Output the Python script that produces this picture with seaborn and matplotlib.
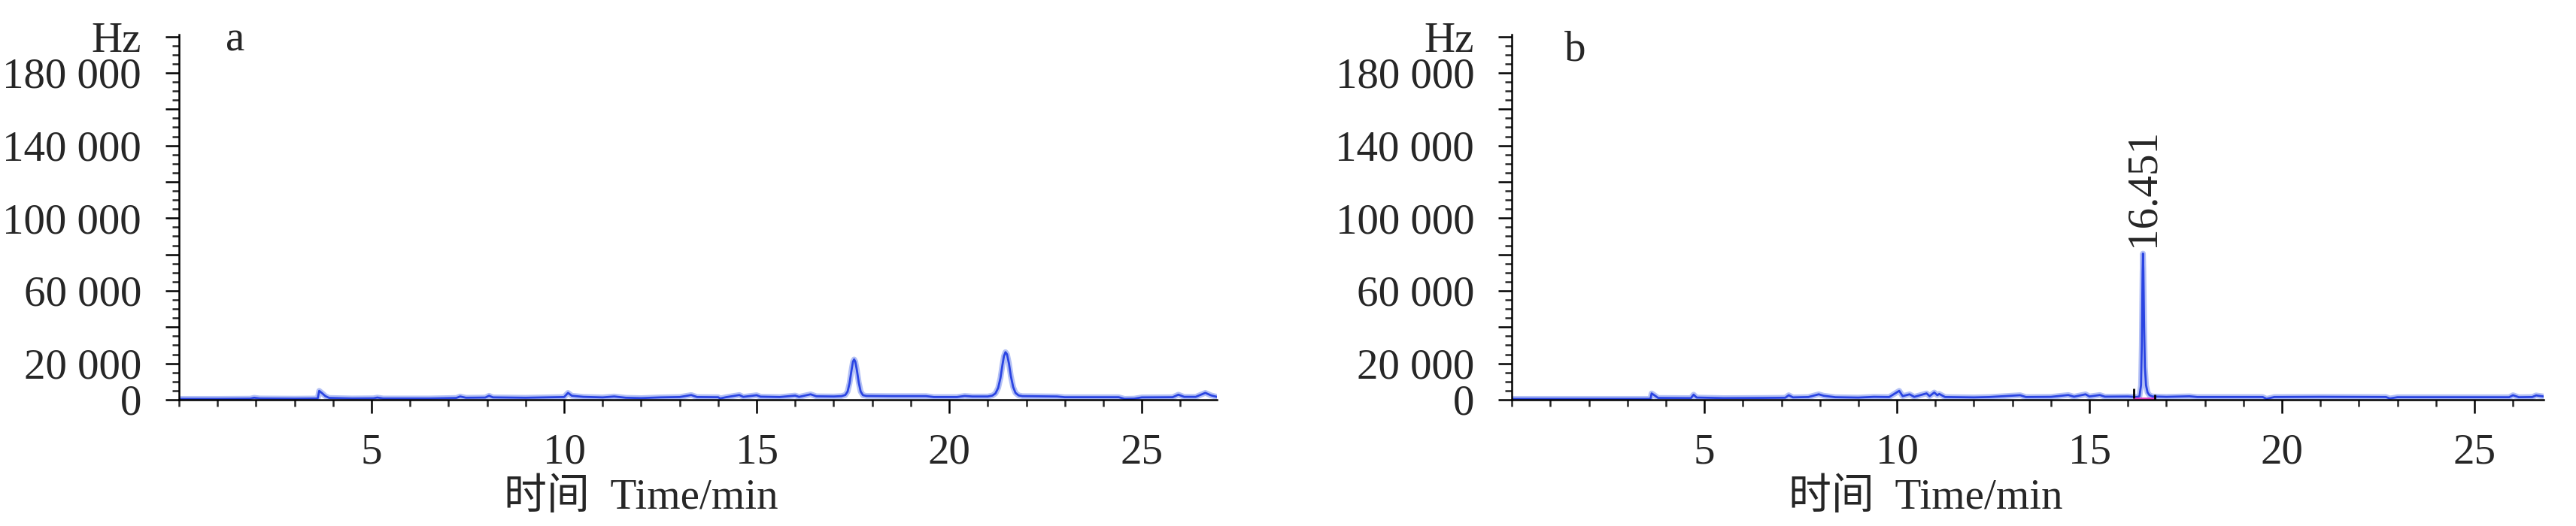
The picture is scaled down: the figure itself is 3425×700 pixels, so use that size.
import pandas as pd
import seaborn as sns
import matplotlib.pyplot as plt
from matplotlib.ticker import MultipleLocator

# chromatogram a (time in min, signal in Hz)
time_a = [0.00, 1.00, 1.85, 1.95, 2.10, 3.00, 3.60, 3.64, 3.72, 3.80, 3.90, 4.50,
          5.05, 5.15, 5.30, 6.50, 7.20, 7.30, 7.45, 7.95, 8.05, 8.15, 9.00, 9.50,
          10.00, 10.10, 10.20, 10.50, 11.00, 11.30, 11.60, 12.00, 12.50, 13.00,
          13.30, 13.45, 14.00, 14.05, 14.20, 14.55, 14.65, 15.00, 15.10, 15.60,
          16.00, 16.10, 16.40, 16.55, 17.00, 17.20, 17.30, 17.36, 17.41, 17.46,
          17.50, 17.53, 17.56, 17.60, 17.65, 17.70, 17.76, 17.85, 18.50, 19.40,
          19.60, 20.20, 20.40, 20.60, 21.00, 21.12, 21.20, 21.27, 21.33, 21.38,
          21.42, 21.46, 21.50, 21.55, 21.60, 21.66, 21.72, 21.80, 21.90, 22.80,
          23.00, 24.40, 24.55, 24.80, 25.00, 25.80, 25.95, 26.10, 26.40, 26.65,
          26.80, 26.95]
signal_a = [500, 500, 600, 1100, 700, 600, 700, 4900, 3500, 2000, 1000, 700,
            800, 1200, 700, 700, 1000, 1800, 1100, 1200, 2200, 1300, 1100, 1300,
            1500, 3800, 2200, 1600, 1300, 1800, 1100, 900, 1300, 1500,
            2600, 1500, 1400, 700, 1400, 2600, 1600, 2500, 1700, 1500,
            2300, 1600, 3000, 1900, 1800, 2000, 2600, 4500, 9000, 16000,
            21000, 22200, 21000, 16500, 9500, 4500, 2500, 2100, 2000, 2000,
            1500, 1500, 2100, 1800, 1800, 2300, 3500, 6500, 12000, 19000,
            24000, 26200, 25000, 20000, 13000, 7000, 3800, 2400, 2000, 1800,
            1400, 1400, 500, 600, 1300, 1400, 2800, 1600, 1600, 3800,
            2400, 1600]

# chromatogram b
time_b = [0.00, 3.60, 3.63, 3.70, 3.80, 4.65, 4.72, 4.80, 5.50, 6.50, 7.10, 7.19,
          7.30, 7.70, 7.97, 8.10, 8.40, 9.00, 9.40, 9.80, 10.06, 10.15, 10.33,
          10.45, 10.77, 10.85, 10.97, 11.05, 11.10, 11.25, 12.00, 12.40, 13.20,
          13.35, 14.00, 14.45, 14.60, 14.90, 15.00, 15.27, 15.40, 16.00, 16.24,
          16.30, 16.34, 16.36, 16.38, 16.39, 16.40, 16.42, 16.44, 16.47, 16.51,
          16.56, 16.64, 17.00, 17.60, 17.80, 19.50, 19.60, 19.80, 21.00, 22.70,
          22.80, 23.00, 25.90, 26.00, 26.15, 26.50, 26.60, 26.80]
signal_b = [500, 500, 3500, 2500, 1000, 900, 2800, 1200, 900, 1000, 1100, 2500,
            1300, 1500, 3000, 2200, 1400, 1200, 1600, 1500, 4900, 2000, 3000,
            1600, 3500, 2000, 4000, 2500, 3200, 1500, 1300, 1500, 2500,
            1500, 1600, 2600, 1700, 3000, 1800, 2600, 1700, 1800, 1500,
            2000, 8000, 30000, 70000, 80500, 72000, 40000, 18000, 8000, 4000,
            2500, 1800, 1600, 1900, 1500, 1500, 500, 1500, 1600, 1500,
            700, 1400, 1400, 2500, 1400, 1500, 2400, 1800]

# apex as drawn, and the retention time printed beside it
peak_b_x = 16.39
peak_b_height = 80500
peak_b_label = "16.451"
peak_b_start, peak_b_end = 16.16, 16.70
peak_b_base = 1000

y_ticks = [0, 20000, 40000, 60000, 80000, 100000, 120000, 140000, 160000, 180000, 200000]
y_labels = ["0", "20 000", "", "60 000", "", "100 000", "", "140 000", "", "180 000", "Hz"]
x_ticks = [5, 10, 15, 20, 25]

df_a = pd.DataFrame({"time": time_a, "signal": signal_a})
df_b = pd.DataFrame({"time": time_b, "signal": signal_b})

sns.set_style("ticks")
plt.rcParams["font.family"] = ["Liberation Serif", "Noto Sans CJK SC"]

fig = plt.figure(figsize=(34.25, 7), dpi=100)
ax_a = fig.add_axes([0.0695, 0.24, 0.4029, 0.694])
ax_b = fig.add_axes([0.5869, 0.24, 0.4006, 0.694])

for ax, df, xmax, letter, lx, ly, lab_x in [
        (ax_a, df_a, 26.95, "a", 0.054, 0.957, 0.445),
        (ax_b, df_b, 26.8, "b", 0.061, 0.93, 0.401)]:
    # soft halo, then the trace
    sns.lineplot(data=df, x="time", y="signal", ax=ax, color="#b3c0f5",
                 lw=5.5, errorbar=None)
    sns.lineplot(data=df, x="time", y="signal", ax=ax, color="#2a44e2",
                 lw=2.0, errorbar=None)
    ax.set_xlim(0, xmax)
    ax.set_ylim(0, 201000)
    ax.set_yticks(y_ticks, y_labels)
    ax.set_xticks(x_ticks)
    ax.xaxis.set_minor_locator(MultipleLocator(1))
    ax.yaxis.set_minor_locator(MultipleLocator(5000))
    ax.tick_params(which="major", direction="out", length=13, width=1.8,
                   labelsize=41, color="black")
    ax.tick_params(which="minor", direction="out", length=6.5, width=1.8)
    ax.tick_params(axis="y", pad=23)
    ax.tick_params(axis="x", pad=19)
    sns.despine(ax=ax)
    for s in ["left", "bottom"]:
        ax.spines[s].set_linewidth(1.8)
        ax.spines[s].set_color("black")
    ax.set_ylabel("")
    ax.set_xlabel("时间  Time/min", fontsize=41)
    ax.xaxis.set_label_coords(lab_x, -0.215)
    ax.text(lx, ly, letter, transform=ax.transAxes, fontsize=41,
            ha="center", va="baseline")

# integration marks of the main peak in b
ax_b.plot([peak_b_start, peak_b_end], [peak_b_base, peak_b_base], color="#e040c0", lw=2)
ax_b.vlines(peak_b_start, peak_b_base, peak_b_base + 5000, color="black", lw=2)
ax_b.vlines(peak_b_end, 0, peak_b_base + 2000, color="black", lw=2)

ax_b.annotate(peak_b_label, xy=(peak_b_x, peak_b_height), xytext=(0, 7),
              textcoords="offset points", rotation=90, ha="center", va="bottom",
              fontsize=41)

fig.savefig("out.png", dpi=100)
